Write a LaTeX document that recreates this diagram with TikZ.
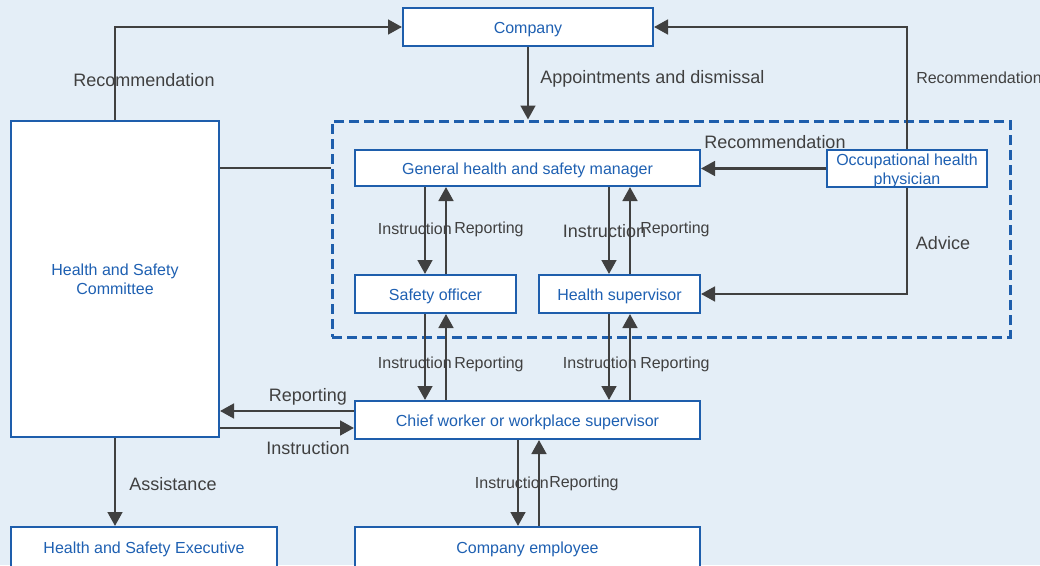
\documentclass[tikz,border=0pt]{standalone}
\usepackage{fontspec}
\setmainfont{Liberation Sans}
\usetikzlibrary{arrows.meta,calc}
\definecolor{bg}{RGB}{228,238,247}
\definecolor{bblue}{RGB}{30,94,172}
\definecolor{tblue}{RGB}{30,96,178}
\definecolor{lgray}{RGB}{64,64,64}
\tikzset{
  boxbase/.style={draw=bblue, line width=1.5pt, fill=white, text=tblue, font=\fontsize{12}{14.25}\selectfont, inner sep=0pt},
  box/.style={boxbase, align=center},
  onebox/.style={boxbase, text height=12pt, text depth=2.5pt},
  lbl/.style={text=lgray, font=\fontsize{13.5}{16}\selectfont, inner sep=0pt},
  slbl/.style={text=lgray, font=\fontsize{12}{14}\selectfont, inner sep=0pt},
  conn/.style={draw=lgray, line width=2pt},
  arr/.style={conn, -{Triangle[length=10.5pt,width=11pt]}},
  grpbox/.style={draw=bblue, line width=2.25pt, dash pattern=on 7.5pt off 3.75pt, inner sep=0pt}
}
\begin{document}
\begin{tikzpicture}[x=0.75pt, y=-0.75pt]
\fill[bg] (0,0) rectangle (1040,565);
\useasboundingbox (0,0) rectangle (1040,565);

% dashed group
\node[grpbox, minimum width=508.5pt, minimum height=162pt] (grp) at (671,229) {};

% boxes
\node[onebox, minimum width=187.5pt, minimum height=28.5pt] (company) at (528,27) {Company};
\node[box, minimum width=156pt, minimum height=237pt] (comm) at (115,279) {Health and Safety\\Committee};
\node[onebox, minimum width=258.75pt, minimum height=27pt] (gm) at (527.5,168) {General health and safety manager};
\node[boxbase, text height=18.4pt, text depth=8.8pt, minimum width=120pt, minimum height=27.75pt] (phys) at (907,168.5) {\begin{tabular}{@{}c@{}}Occupational health\\physician\end{tabular}};
\node[onebox, minimum width=120.75pt, minimum height=28.5pt] (so) at (435.5,294) {Safety officer};
\node[onebox, minimum width=120.75pt, minimum height=28.5pt] (hs) at (619.5,294) {Health supervisor};
\node[onebox, minimum width=258.75pt, minimum height=28.5pt] (chief) at (527.5,420) {Chief worker or workplace supervisor};
\node[onebox, minimum width=199.5pt, minimum height=30pt] (hse) at (144,547) {Health and Safety Executive};
\node[onebox, minimum width=258.75pt, minimum height=30pt] (emp) at (527.5,547) {Company employee};

% labels
\node[lbl] (lrec1) at (144,80) {Recommendation};
\node[lbl, anchor=west] (lappt) at (540,79) {Appointments and dismissal};
\node[slbl, anchor=west] (lrec2) at (916,78) {Recommendation};
\node[lbl] (lrec3) at (775,142) {Recommendation};
\node[lbl] (ladv) at (943,243) {Advice};
\node[slbl, anchor=east] (li1) at (452,229) {Instruction};
\node[slbl, anchor=west] (lr1) at (454,229) {Reporting};
\node[lbl] (li2) at (604.5,231) {Instruction};
\node[slbl, anchor=west] (lr2) at (640,229) {Reporting};
\node[slbl, anchor=east] (li3) at (452,363) {Instruction};
\node[slbl, anchor=west] (lr3) at (454,364) {Reporting};
\node[slbl, anchor=east] (li4) at (637,363) {Instruction};
\node[slbl, anchor=west] (lr4) at (640,364) {Reporting};
\node[lbl] (lr5) at (308,397) {Reporting};
\node[lbl] (li5) at (308,448) {Instruction};
\node[lbl] (lass) at (173,484) {Assistance};
\node[slbl, anchor=east] (li6) at (549,483) {Instruction};
\node[slbl, anchor=west] (lr6) at (549,483) {Reporting};

% connectors
\draw[arr] (comm.north) |- (company.west);
\draw[arr] (company.south) -- (company.south |- grp.north);
\draw[arr] (phys.north) |- (company.east);
\draw[arr] (phys.west) -- (phys.west -| gm.east);
\draw[arr] (phys.south) |- (hs.east);
\draw[conn] (comm.east |- gm.west) -- (grp.west |- gm.west);

\coordinate (soL) at ([xshift=-7.875pt]so.north);
\coordinate (soR) at ([xshift=7.875pt]so.north);
\coordinate (soLb) at ([xshift=-7.875pt]so.south);
\coordinate (soRb) at ([xshift=7.875pt]so.south);
\coordinate (hsL) at ([xshift=-7.875pt]hs.north);
\coordinate (hsR) at ([xshift=7.875pt]hs.north);
\coordinate (hsLb) at ([xshift=-7.875pt]hs.south);
\coordinate (hsRb) at ([xshift=7.875pt]hs.south);
\coordinate (eL) at ([xshift=-7.125pt]emp.north);
\coordinate (eR) at ([xshift=8.625pt]emp.north);
\coordinate (rp) at ([yshift=6.75pt]chief.west);
\coordinate (ins) at ([yshift=-6pt]chief.west);

\draw[arr] (soL |- gm.south) -- (soL);
\draw[arr] (soR) -- (soR |- gm.south);
\draw[arr] (hsL |- gm.south) -- (hsL);
\draw[arr] (hsR) -- (hsR |- gm.south);
\draw[arr] (soLb) -- (soLb |- chief.north);
\draw[arr] (soRb |- chief.north) -- (soRb);
\draw[arr] (hsLb) -- (hsLb |- chief.north);
\draw[arr] (hsRb |- chief.north) -- (hsRb);
\draw[arr] (eL |- chief.south) -- (eL);
\draw[arr] (eR) -- (eR |- chief.south);
\draw[arr] (rp) -- (rp -| comm.east);
\draw[arr] (ins -| comm.east) -- (ins);
\draw[arr] (comm.south) -- (comm.south |- hse.north);
\end{tikzpicture}
\end{document}
